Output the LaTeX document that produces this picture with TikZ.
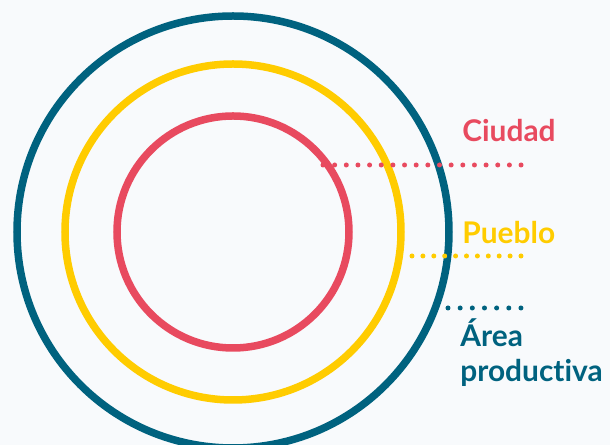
\documentclass[tikz,border=0pt]{standalone}
\usepackage{fontspec}
\setmainfont{Lato}[Ligatures=NoCommon]
\usepackage{xcolor}
\usepackage{tikz}
\usetikzlibrary{positioning}
\definecolor{zoneBg}{RGB}{248,250,252}
\definecolor{zoneBlue}{RGB}{0,98,127}
\definecolor{zoneYellow}{RGB}{255,204,0}
\definecolor{zoneRed}{RGB}{232,74,95}

\begin{document}
\begin{tikzpicture}[x=0.02cm,y=-0.02cm,
    ring/.style={line width=7.5*0.02cm},
    zonelabel/.style={anchor=base west, inner sep=0pt, font=\bfseries\fontsize{17pt}{20pt}\selectfont},
    dots/.style={line width=5*0.02cm, line cap=round, dash pattern=on 0pt off #1*0.02cm}]
    \fill[zoneBg] (0,0) rectangle (610,445);
    \useasboundingbox (0,0) rectangle (610,445);
    \clip (0,0) rectangle (610,445);
    \coordinate (c) at (233,232);
    \draw[zoneBlue, ring] (c) circle (216);
    \draw[zoneYellow, ring] (c) circle (168);
    \draw[zoneRed, ring] (c) circle (116);
    \node[zonelabel, text=zoneRed] (ciudad) at (462,142) {Ciudad};
    \node[zonelabel, text=zoneYellow] (pueblo) at (462,244) {Pueblo};
    \node[zonelabel, text=zoneBlue] (area) at (460,347) {Área};
    \node[zonelabel, text=zoneBlue] (productiva) at (460,382) {productiva};
    \coordinate (ciudadA) at (323,165);
    \coordinate (ciudadB) at (521.5,165);
    \coordinate (puebloA) at (412,256);
    \coordinate (puebloB) at (521.5,256);
    \coordinate (areaA) at (448,308);
    \coordinate (areaB) at (521.5,308);
    \draw[zoneRed, dots=11.65] (ciudadA) -- (ciudadB);
    \draw[zoneYellow, dots=10.9] (puebloA) -- (puebloB);
    \draw[zoneBlue, dots=12.16] (areaA) -- (areaB);
\end{tikzpicture}
\end{document}
